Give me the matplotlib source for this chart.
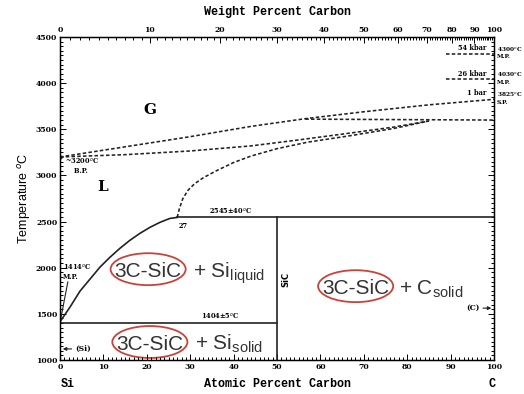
import numpy as np
import matplotlib.pyplot as plt
from matplotlib.patches import Ellipse

# phase boundaries: atomic % C vs temperature (deg C)
liq_x = [0, 2.3, 4.6, 6.9, 9.2, 11.5, 13.8, 16.1, 18.4, 20.7, 23.0, 25.3, 27]
liq_T = [1414, 1573, 1746, 1876, 2006, 2113, 2210, 2297, 2372, 2437, 2491, 2534, 2545]

lg_x = [27, 27.5, 28.3, 29.5, 31, 33, 36, 40, 44, 50, 57, 66.8, 77, 85]
lg_T = [2545, 2640, 2750, 2840, 2910, 2975, 3050, 3140, 3210, 3290, 3360, 3430, 3510, 3590]

bp_x = [0, 15, 30, 44, 55, 67, 77, 85]
bp_T = [3200, 3225, 3265, 3320, 3385, 3460, 3525, 3590]

vap_x = [0, 15, 30, 43.8, 56.5, 70, 85, 100]
vap_T = [3200, 3310, 3420, 3530, 3615, 3690, 3765, 3825]

gas_x = [56.5, 100]
gas_T = [3610, 3600]

peritectic_T = 2545
eutectic_T = 1404
sic_x = 50

# pressure labels (top right)
p_labels = ['54 kbar', '26 kbar', '1 bar']
p_T = [4320, 4040, 3825]
mp_labels = ['4300$^o$C\nM.P.', '4030$^o$C\nM.P.', '3825$^o$C\nS.P.']

# circled phase labels
el_x = [20.3, 20.7, 68.1]
el_T = [1984, 1195, 1800]
rest_x = [30.6, 31.2, 78.0]
rest_txt = ['+ Si$_{\\mathregular{liquid}}$', '+ Si$_{\\mathregular{solid}}$',
            '+ C$_{\\mathregular{solid}}$']

wt_ticks = [0, 10, 20, 30, 40, 50, 60, 70, 80, 90, 100]


def wt_to_at(w):
    w = np.asarray(w, dtype=float)
    c = w / 12.011
    s = (100 - w) / 28.086
    return 100 * c / (c + s)


tickfont = dict(family='DejaVu Serif', size=5.5, weight='bold')
smallfont = dict(family='DejaVu Serif', size=4.8, weight='bold')
tinyfont = dict(family='DejaVu Serif', size=4.2, weight='bold')
labfont = dict(family='Liberation Mono', size=8.5, weight='bold')

fig = plt.figure(figsize=(5.24, 3.94), dpi=100)
ax = fig.add_axes([0.1145, 0.0863, 0.8285, 0.8198])
ax.set_xlim(0, 100)
ax.set_ylim(1000, 4500)

lw = 1.2
dash = dict(color='#222222', lw=1.15, ls=(0, (2.2, 1.4)))
ax.plot(liq_x, liq_T, color='#222222', lw=lw)
ax.plot([27, 100], [peritectic_T] * 2, color='#222222', lw=lw)
ax.plot([0, 50], [eutectic_T] * 2, color='#222222', lw=lw)
ax.plot([sic_x, sic_x], [1000, peritectic_T], color='#222222', lw=lw)
ax.plot(lg_x, lg_T, **dash)
ax.plot(bp_x, bp_T, **dash)
ax.plot(vap_x, vap_T, **dash)
ax.plot(gas_x, gas_T, **dash)
ax.plot([0], [3200], 'o', color='#222222', ms=2)

# pressure lines and labels
for lab, t, mp in zip(p_labels, p_T, mp_labels):
    if lab != '1 bar':
        ax.plot([89, 100], [t, t], **dash)
    ax.text(98.3, t + 20, lab, ha='right', va='bottom', **smallfont)
    ax.text(100.6, t + 15, mp, ha='left', va='center', linespacing=1.1,
            clip_on=False, **tinyfont)

# region labels
ax.text(20.7, 3712, 'G', ha='center', va='center', family='DejaVu Serif',
        weight='bold', size=11)
ax.text(9.9, 2880, 'L', ha='center', va='center', family='DejaVu Serif',
        weight='bold', size=11)
ax.text(1.2, 3110, '~3200$^o$C\n    B.P.', ha='left', va='center',
        linespacing=1.1, **smallfont)
ax.text(27.4, 2500, '27', ha='left', va='top', **smallfont)
ax.text(39.2, 2560, '2545\u00b140$^o$C', ha='center', va='bottom', **smallfont)
ax.text(37, 1420, '1404\u00b15$^o$C', ha='center', va='bottom', **smallfont)
ax.text(0.6, 1960, '1414$^o$C\nM.P.', ha='left', va='center',
        linespacing=1.1, **smallfont)
ax.plot([1.8, 0], [1845, 1404], color='#222222', lw=0.8)
ax.annotate('', xy=(0, 1120), xytext=(3.3, 1120),
            arrowprops=dict(arrowstyle='-|>', color='#222222', lw=0.8,
                            mutation_scale=5))
ax.text(3.4, 1120, '(Si)', ha='left', va='center', **tickfont)
ax.annotate('', xy=(100, 1562), xytext=(96.8, 1562),
            arrowprops=dict(arrowstyle='-|>', color='#222222', lw=0.8,
                            mutation_scale=5))
ax.text(96.6, 1562, '(C)', ha='right', va='center', **tickfont)
ax.text(52.0, 1876, 'SiC', rotation=90, ha='center', va='center',
        family='DejaVu Sans', weight='bold', size=6)

for cx, cy, rx, rt in zip(el_x, el_T, rest_x, rest_txt):
    ax.text(cx, cy - 85, '3C-SiC', ha='center', va='baseline',
            family='Liberation Sans', size=15, color='#333333')
    ax.add_patch(Ellipse((cx, cy), 17.3, 346, fill=False, ec='#c8443a', lw=1.3))
    ax.text(rx, cy - 85, rt, ha='left', va='baseline',
            family='Liberation Sans', size=15, color='#333333')

# axes, ticks
ax.set_xticks(range(0, 101, 10))
ax.set_xticks(range(0, 101, 1), minor=True)
ax.set_yticks(range(1000, 4501, 500))
ax.set_yticks(range(1000, 4501, 50), minor=True)
ax.tick_params(which='both', direction='in', top=False, right=True,
               labelsize=5.5, width=0.7)
ax.tick_params(which='major', length=4)
ax.tick_params(which='minor', length=2)
for lab in ax.get_xticklabels() + ax.get_yticklabels():
    lab.set_family('DejaVu Serif')
    lab.set_weight('bold')
ax.tick_params(axis='x', pad=2)
ax.tick_params(axis='y', pad=2)
for s in ax.spines.values():
    s.set_linewidth(1.0)

top = ax.twiny()
top.set_xlim(0, 100)
top.set_xticks(wt_to_at(wt_ticks))
top.set_xticklabels([str(w) for w in wt_ticks], **tickfont)
top.set_xticks(wt_to_at(np.arange(0, 101, 1)), minor=True)
top.tick_params(which='both', direction='in', width=0.7, pad=2)
top.tick_params(which='major', length=4)
top.tick_params(which='minor', length=2)

top.set_xlabel('Weight Percent Carbon', labelpad=8, **labfont)
ax.set_xlabel('Atomic Percent Carbon', labelpad=5, **labfont)
ax.set_ylabel('Temperature $^o$C', family='Liberation Sans', size=9, labelpad=2)
ax.text(1.8, -0.073, 'Si', transform=ax.get_xaxis_transform(), ha='center',
        va='center', **labfont)
ax.text(99.5, -0.073, 'C', transform=ax.get_xaxis_transform(), ha='center',
        va='center', **labfont)

fig.savefig('out.png', dpi=100, facecolor='white')
